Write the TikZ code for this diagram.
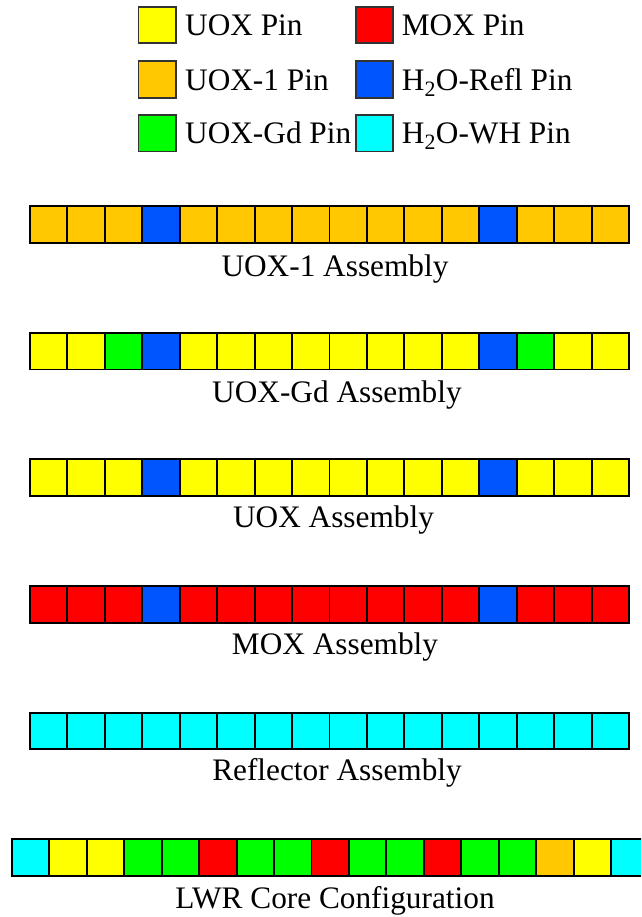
\documentclass[tikz,border=0pt]{standalone}
\usepackage{fontspec}
\setmainfont{Liberation Serif}
\definecolor{pinY}{RGB}{255,255,0}
\definecolor{pinO}{RGB}{255,200,0}
\definecolor{pinG}{RGB}{0,255,0}
\definecolor{pinB}{RGB}{0,85,255}
\definecolor{pinR}{RGB}{255,0,0}
\definecolor{pinC}{RGB}{0,255,255}
\tikzset{
  cell/.style={draw=black, line width=1.9pt, minimum width=37.44pt, minimum height=36.8pt,
    inner sep=0pt, outer sep=0pt, anchor=north west},
  legbox/.style={draw=black!80, line width=1.8pt, minimum width=37.2pt, minimum height=36.6pt,
    inner sep=0pt, outer sep=0pt},
  lab/.style={inner sep=0pt, font=\fontsize{31.3}{36}\selectfont},
}
\begin{document}
\begin{tikzpicture}[x=1pt,y=1pt]
\useasboundingbox (0,0) rectangle (641,-917);
\clip (0,0) rectangle (641,-917);
% legend
\node[legbox, fill=pinY] (kY) at (157,-25) {};
\node[legbox, fill=pinO] (kO) at (157,-79.7) {};
\node[legbox, fill=pinG] (kG) at (157,-133.3) {};
\node[legbox, fill=pinR] (kR) at (374.7,-25) {};
\node[legbox, fill=pinB] (kB) at (374.7,-79.7) {};
\node[legbox, fill=pinC] (kC) at (374.7,-133.3) {};
\node[lab, anchor=base west] (tY) at (185,-35.4) {UOX Pin};
\node[lab, anchor=base west] (tO) at (185,-90.1) {UOX-1 Pin};
\node[lab, anchor=base west] (tG) at (185,-143.7) {UOX-Gd Pin};
\node[lab, anchor=base west] (tR) at (401.7,-35.4) {MOX Pin};
\node[lab, anchor=base west] (tB) at (401.7,-90.1) {H\textsubscript{2}O-Refl Pin};
\node[lab, anchor=base west] (tC) at (401.7,-143.7) {H\textsubscript{2}O-WH Pin};
% assemblies
\foreach \c [count=\i from 0] in {O,O,O,B,O,O,O,O,O,O,O,O,B,O,O,O}
  \node[cell, fill=pin\c] (a-\i) at ({30+\i*37.44},-206) {};
\node[lab, anchor=base] (la) at (335,-276) {UOX-1 Assembly};
\foreach \c [count=\i from 0] in {Y,Y,G,B,Y,Y,Y,Y,Y,Y,Y,Y,B,G,Y,Y}
  \node[cell, fill=pin\c] (b-\i) at ({30+\i*37.44},-332.7) {};
\node[lab, anchor=base] (lb) at (337,-402.5) {UOX-Gd Assembly};
\foreach \c [count=\i from 0] in {Y,Y,Y,B,Y,Y,Y,Y,Y,Y,Y,Y,B,Y,Y,Y}
  \node[cell, fill=pin\c] (c-\i) at ({30+\i*37.44},-459.3) {};
\node[lab, anchor=base] (lc) at (333.5,-527.5) {UOX Assembly};
\foreach \c [count=\i from 0] in {R,R,R,B,R,R,R,R,R,R,R,R,B,R,R,R}
  \node[cell, fill=pin\c] (d-\i) at ({30+\i*37.44},-586) {};
\node[lab, anchor=base] (ld) at (335,-654.5) {MOX Assembly};
\foreach \c [count=\i from 0] in {C,C,C,C,C,C,C,C,C,C,C,C,C,C,C,C}
  \node[cell, fill=pin\c] (e-\i) at ({30+\i*37.44},-712.6) {};
\node[lab, anchor=base] (le) at (337,-780.5) {Reflector Assembly};
\foreach \c [count=\i from 0] in {C,Y,Y,G,G,R,G,G,R,G,G,R,G,G,O,Y,C}
  \node[cell, fill=pin\c] (f-\i) at ({12+\i*37.44},-839.3) {};
\node[lab, anchor=base] (lf) at (335,-908) {LWR Core Configuration};
\end{tikzpicture}
\end{document}
